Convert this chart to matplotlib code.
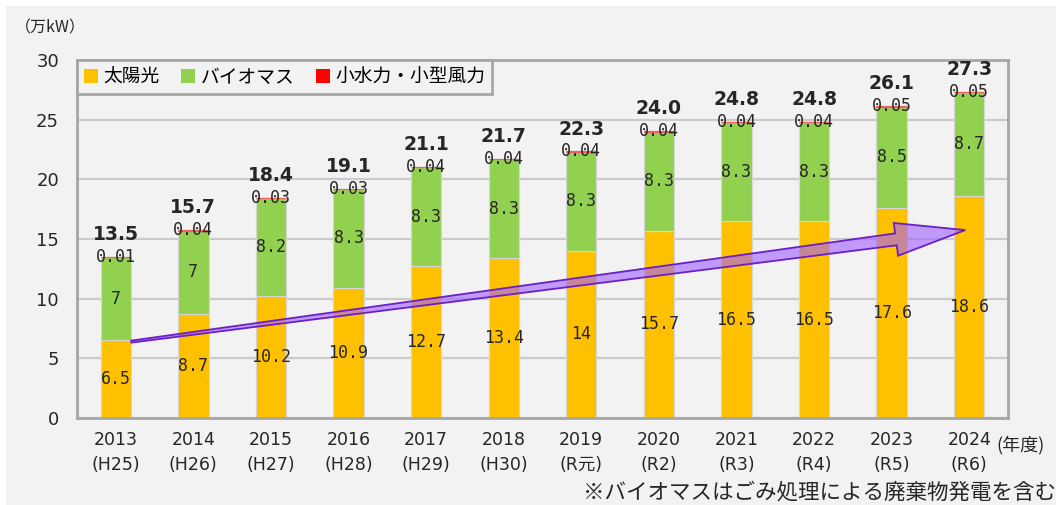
import numpy as np
import matplotlib
matplotlib.use("Agg")
import matplotlib.pyplot as plt
from matplotlib.patches import Patch, Polygon, Rectangle

plt.rcParams['font.family'] = ['Noto Sans CJK JP', 'DejaVu Sans']

years = ['2013', '2014', '2015', '2016', '2017', '2018', '2019', '2020', '2021', '2022', '2023', '2024']
eras = ['(H25)', '(H26)', '(H27)', '(H28)', '(H29)', '(H30)', '(R元)', '(R2)', '(R3)', '(R4)', '(R5)', '(R6)']
solar = [6.5, 8.7, 10.2, 10.9, 12.7, 13.4, 14, 15.7, 16.5, 16.5, 17.6, 18.6]
biomass = [7, 7, 8.2, 8.3, 8.3, 8.3, 8.3, 8.3, 8.3, 8.3, 8.5, 8.7]
small_hydro_wind = [0.01, 0.04, 0.03, 0.03, 0.04, 0.04, 0.04, 0.04, 0.04, 0.04, 0.05, 0.05]
totals = [13.5, 15.7, 18.4, 19.1, 21.1, 21.7, 22.3, 24.0, 24.8, 24.8, 26.1, 27.3]
series_names = ['太陽光', 'バイオマス', '小水力・小型風力']

# trend arrow: (year index, value) for tail and tip
arrow_tail = (0.2, 6.4)
arrow_tip = (10.95, 15.75)

c_solar, c_bio, c_small = '#FFC000', '#92D050', '#FF0000'
bg = '#F2F2F2'
txt = '#262626'

W, H = 1056, 505
fig = plt.figure(figsize=(W / 100, H / 100), dpi=100, facecolor='white')
fig.add_artist(Rectangle((6 / W, 0), 1, 1 - 6 / H, transform=fig.transFigure,
                         facecolor=bg, edgecolor='none', zorder=0))
ax = fig.add_axes([77 / W, 1 - 418 / H, (1008 - 77) / W, (418 - 60) / H])
ax.set_facecolor(bg)

x = np.arange(len(years))
solar_a = np.array(solar)
bio_a = np.array(biomass)
small_a = np.array(small_hydro_wind)
bw = 0.39

ax.bar(x, solar_a, bw, color=c_solar, edgecolor='#d6d6d6', linewidth=0.8, zorder=2)
ax.bar(x, bio_a, bw, bottom=solar_a, color=c_bio, edgecolor='#d6d6d6', linewidth=0.8, zorder=2)
ax.bar(x, small_a, bw, bottom=solar_a + bio_a, color=c_small, edgecolor='#f06060',
       linewidth=0.9, zorder=2)
top = solar_a + bio_a + small_a

ax.set_xlim(-0.5, len(years) - 0.5)
ax.set_ylim(0, 30)
ax.set_yticks(np.arange(0, 31, 5))
ax.set_yticklabels([str(v) for v in range(0, 31, 5)], fontsize=13, color=txt,
                   family='DejaVu Sans')
ax.tick_params(axis='y', length=0, pad=13)
ax.set_xticks([])
ax.grid(axis='y', color='#cbcbcb', linewidth=1.6, zorder=1)
ax.set_axisbelow(True)
for s in ax.spines.values():
    s.set_color('#a6a6a6')
    s.set_linewidth(2)

mono = 'DejaVu Sans Mono'
tick_fam = ['DejaVu Sans', 'Noto Sans CJK JP']
for i in range(len(years)):
    ax.text(x[i], solar_a[i] / 2, f'{solar[i]:g}', ha='center', va='center',
            fontsize=12, family=mono, color=txt, zorder=5)
    ax.text(x[i], solar_a[i] + bio_a[i] / 2, f'{biomass[i]:g}', ha='center', va='center',
            fontsize=12, family=mono, color=txt, zorder=5)
    ax.text(x[i], top[i], f'{small_hydro_wind[i]:g}', ha='center', va='center',
            fontsize=12, family=mono, color=txt, zorder=5)
    ax.annotate(f'{totals[i]:.1f}', (x[i], top[i]), xytext=(0, 16), textcoords='offset points',
                ha='center', va='center', fontsize=13.5, fontweight='bold',
                family='DejaVu Sans', color=txt, zorder=5)
    ax.annotate(years[i], (x[i], 0), xycoords=('data', 'axes fraction'), xytext=(0, -16),
                textcoords='offset points', ha='center', va='center', fontsize=12.5,
                family=tick_fam, color=txt, annotation_clip=False)
    ax.annotate(eras[i], (x[i], 0), xycoords=('data', 'axes fraction'), xytext=(0, -34),
                textcoords='offset points', ha='center', va='center', fontsize=12.5,
                family=tick_fam, color=txt, annotation_clip=False)

# tapered arrow built in pixel space, then mapped back to data
p0 = ax.transData.transform(arrow_tail)
p1 = ax.transData.transform(arrow_tip)
d = p1 - p0
u = d / np.hypot(*d)
n = np.array([-u[1], u[0]])
base = p1 - u * 70
pts = [p0 + n * 1, base + n * 6, base + n * 16.5, p1,
       base - n * 16.5, base - n * 6, p0 - n * 1]
pts = ax.transData.inverted().transform(np.array(pts))
ax.add_patch(Polygon(pts, closed=True, facecolor='#A060FF', alpha=0.6,
                     edgecolor='none', zorder=3))
ax.add_patch(Polygon(pts, closed=True, facecolor='none', edgecolor='#6A1FC8',
                     linewidth=1.3, zorder=3))

handles = [Patch(facecolor=c, edgecolor='none') for c in (c_solar, c_bio, c_small)]
leg = ax.legend(handles, series_names, loc='upper left', bbox_to_anchor=(0, 1),
                borderaxespad=0, ncol=3, fontsize=13.5, handlelength=0.75,
                handleheight=0.75, handletextpad=0.3, columnspacing=1.15,
                borderpad=0.35, fancybox=False, framealpha=1)
leg.get_frame().set_facecolor(bg)
leg.get_frame().set_edgecolor('#a6a6a6')
leg.get_frame().set_linewidth(2)
leg.set_zorder(6)

fig.text(50 / W, 1 - 28 / H, '（万kW）', ha='center', va='center', fontsize=11.5, color=txt)
fig.text(1021 / W, 1 - 445 / H, '(年度)', ha='center', va='center', fontsize=13, color=txt)
fig.text(1.0, 1 - 493 / H, '※バイオマスはごみ処理による廃棄物発電を含む', ha='right',
         va='center', fontsize=15.5, color=txt)

fig.savefig('out.png', dpi=100, facecolor=fig.get_facecolor())
